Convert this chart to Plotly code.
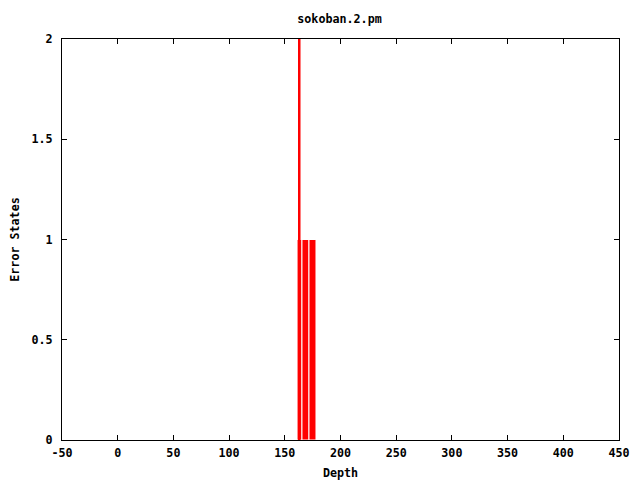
import plotly.graph_objects as go

title = "sokoban.2.pm"
x_label = "Depth"
y_label = "Error States"

# boxes of value 1 (center, width)
box_depth = [163.2, 168.55, 174.85]
box_width = [4.4, 6.3, 6.3]
box_errors = [1, 1, 1]

# tall impulse
spike_depth = [163.3]
spike_width = [1.6]
spike_errors = [2]

x_ticks = [-50, 0, 50, 100, 150, 200, 250, 300, 350, 400, 450]
y_ticks = [0, 0.5, 1, 1.5, 2]

font = dict(family="DejaVu Sans Mono", size=11.7, color="black")

fig = go.Figure()
fig.add_trace(go.Bar(x=box_depth, y=box_errors, width=box_width,
                     marker=dict(color="#ff0000", line=dict(color="white", width=1))))
fig.add_trace(go.Bar(x=spike_depth, y=spike_errors, width=spike_width,
                     marker=dict(color="#ff0000", line=dict(width=0))))

axis_common = dict(showgrid=False, zeroline=False, showline=True, linecolor="black",
                   linewidth=1, mirror="ticks", ticks="inside", ticklen=5,
                   tickcolor="black", tickfont=font, automargin=False)

# page body has an 8px margin, so the figure is 632x472 placed at (8, 8)
fig.update_layout(
    width=632, height=472,
    paper_bgcolor="white", plot_bgcolor="white",
    barmode="overlay", showlegend=False,
    margin=dict(l=54, r=21, t=31, b=40),
    title=dict(text="<b>" + title + "</b>", x=(298 + 381) / 2 / 632 - 8 / 632, xanchor="center",
               y=0.977, yanchor="middle", font=font, automargin=False),
    xaxis=dict(range=[-50, 450], tickvals=x_ticks, ticktext=["<b>%d</b>" % v for v in x_ticks],
               ticklabelstandoff=2,
               title=dict(text="<b>" + x_label + "</b>", font=font, standoff=15), **axis_common),
    yaxis=dict(range=[0, 2], tickvals=y_ticks, ticktext=["<b>%g</b>" % v for v in y_ticks],
               ticklabelstandoff=6,
               title=dict(text="<b>" + y_label + "</b>", font=font, standoff=11), **axis_common),
)

fig.write_html("out.html")
